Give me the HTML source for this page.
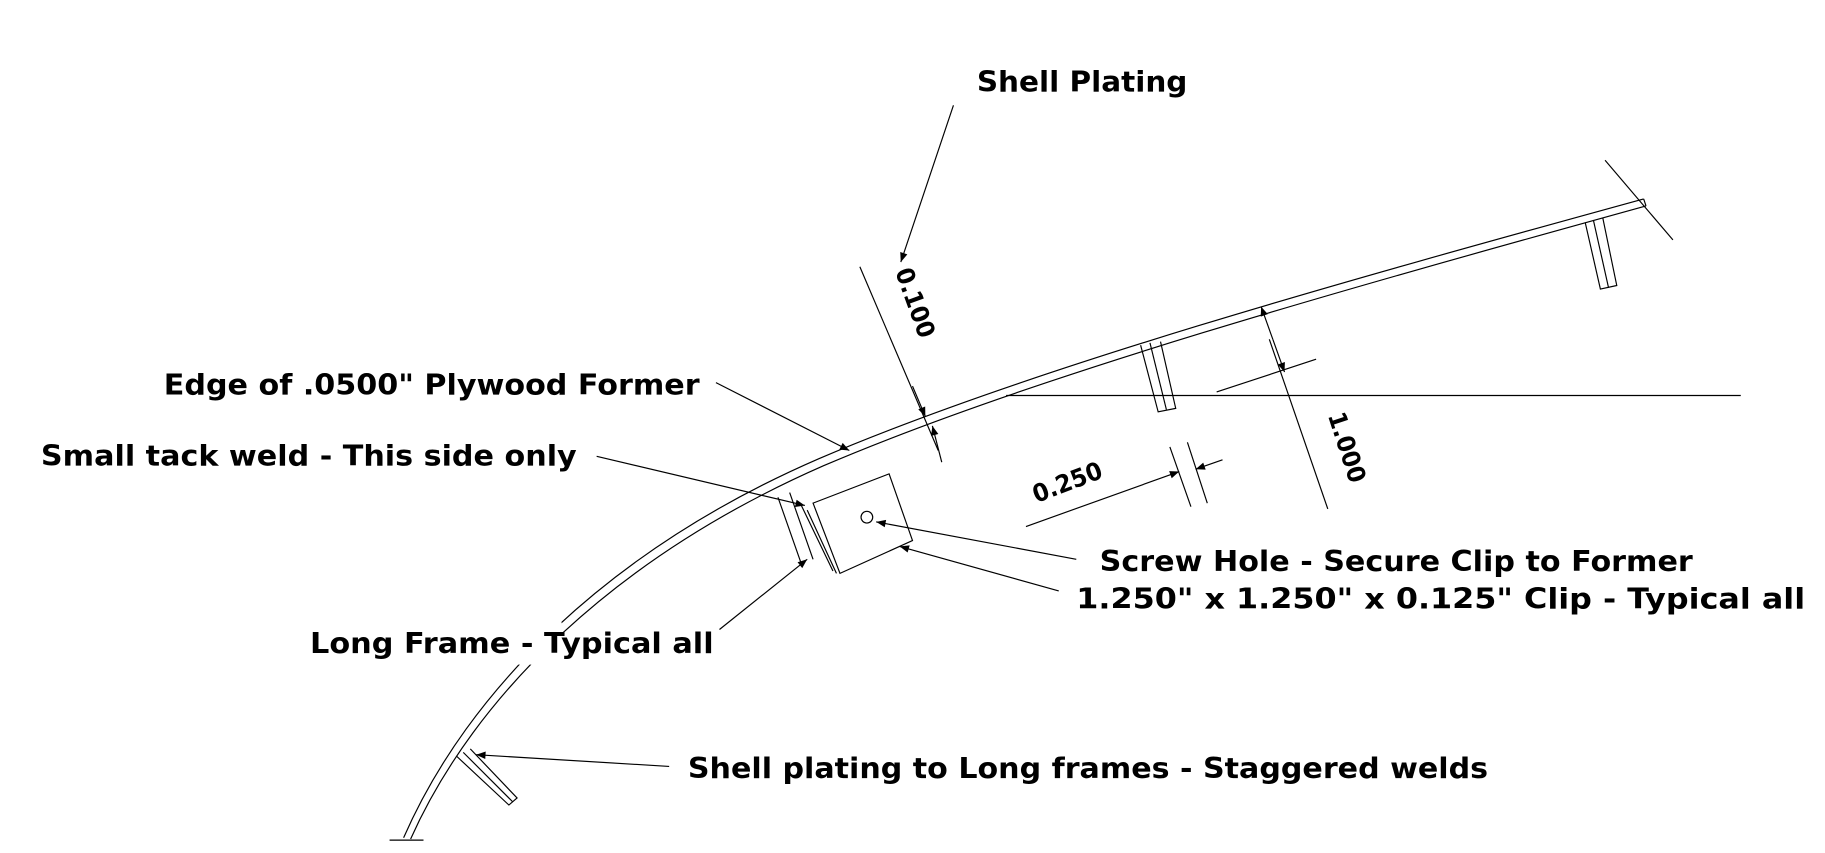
<!DOCTYPE html>
<html><head><meta charset="utf-8"><style>
html,body{margin:0;padding:0;background:#fff;}
svg{display:block;}
text{font-family:"DejaVu Sans","Liberation Sans",sans-serif;font-weight:bold;font-size:24px;fill:#000;}
</style></head><body>
<svg width="1825" height="853" viewBox="0 0 1560 729" preserveAspectRatio="none" xmlns="http://www.w3.org/2000/svg">
<defs>
<marker id="a" viewBox="0 0 10 10" refX="10" refY="5" markerWidth="12" markerHeight="8" markerUnits="userSpaceOnUse" orient="auto"><path d="M0,1 L10,5 L0,9 z" fill="#000"/></marker>
</defs>
<g stroke="#000" stroke-width="1" fill="none">
<path d="M345,716 C400,590 520,470 700,392 C880,315 1150,240 1405,170"/>
<path d="M351,717 C406,594 526,476 704,398 C884,321 1154,246 1407,176"/>
<line x1="1405" y1="170" x2="1407" y2="176"/>
<line x1="333" y1="718" x2="362" y2="718"/>
<line x1="1372" y1="137" x2="1430" y2="205"/>
<line x1="860" y1="338" x2="1488" y2="338"/>
<path d="M975,295 L990,352 L1005,349 L992,292"/>
<line x1="983" y1="293" x2="997" y2="350"/>
<path d="M1355,190 L1368,247 L1382,244 L1370,186"/>
<line x1="1362" y1="188" x2="1375" y2="246"/>
<path d="M390,646 L435,688 L442,682 L402,640"/>
<line x1="396" y1="643" x2="438" y2="685"/>
<line x1="665" y1="425" x2="685" y2="482"/>
<line x1="675" y1="421" x2="695" y2="478"/>
<line x1="685" y1="432" x2="712" y2="488"/>
<path d="M695,430 L760,405 L780,462 L718,490 Z"/>
<line x1="690" y1="436" x2="715" y2="490"/>
<circle cx="741" cy="442" r="5"/>
<line x1="735" y1="228" x2="802" y2="385"/>
<line x1="815" y1="90" x2="770" y2="224" marker-end="url(#a)"/>
<line x1="780" y1="330" x2="791" y2="356" marker-end="url(#a)"/>
<line x1="805" y1="395" x2="797" y2="364" marker-end="url(#a)"/>
<line x1="1040" y1="335" x2="1125" y2="307"/>
<line x1="1085" y1="290" x2="1135" y2="435"/>
<line x1="1088" y1="290" x2="1078" y2="262" marker-end="url(#a)"/>
<line x1="1088" y1="290" x2="1098" y2="318" marker-end="url(#a)"/>
<line x1="1000" y1="382" x2="1018" y2="433"/>
<line x1="1015" y1="378" x2="1032" y2="430"/>
<line x1="877" y1="450" x2="1008" y2="403" marker-end="url(#a)"/>
<line x1="1045" y1="393" x2="1022" y2="401" marker-end="url(#a)"/>
<line x1="612" y1="327" x2="726" y2="385" marker-end="url(#a)"/>
<line x1="510" y1="390" x2="688" y2="432" marker-end="url(#a)"/>
<line x1="920" y1="478" x2="749" y2="446" marker-end="url(#a)"/>
<line x1="905" y1="505" x2="769" y2="467" marker-end="url(#a)"/>
<line x1="615" y1="538" x2="690" y2="478" marker-end="url(#a)"/>
<line x1="572" y1="655" x2="407" y2="645" marker-end="url(#a)"/>
</g>
<rect x="430" y="528" width="50" height="40" fill="#fff"/>
<text x="835" y="78" textLength="180" lengthAdjust="spacingAndGlyphs">Shell Plating</text>
<text x="140" y="337" textLength="458" lengthAdjust="spacingAndGlyphs">Edge of .0500" Plywood Former</text>
<text x="35" y="398" textLength="458" lengthAdjust="spacingAndGlyphs">Small tack weld - This side only</text>
<text x="940" y="488" textLength="507" lengthAdjust="spacingAndGlyphs">Screw Hole - Secure Clip to Former</text>
<text x="920" y="520" textLength="623" lengthAdjust="spacingAndGlyphs">1.250" x 1.250" x 0.125" Clip - Typical all</text>
<text x="265" y="558" textLength="345" lengthAdjust="spacingAndGlyphs">Long Frame - Typical all</text>
<text x="588" y="665" textLength="684" lengthAdjust="spacingAndGlyphs">Shell plating to Long frames - Staggered welds</text>
<text transform="translate(765,232) rotate(70)" style="font-size:21px" textLength="62" lengthAdjust="spacingAndGlyphs">0.100</text>
<text transform="translate(1135,355) rotate(72)" style="font-size:21px" textLength="62" lengthAdjust="spacingAndGlyphs">1.000</text>
<text transform="translate(886,430) rotate(-21)" style="font-size:21px" textLength="62" lengthAdjust="spacingAndGlyphs">0.250</text>
</svg>
</body></html>
